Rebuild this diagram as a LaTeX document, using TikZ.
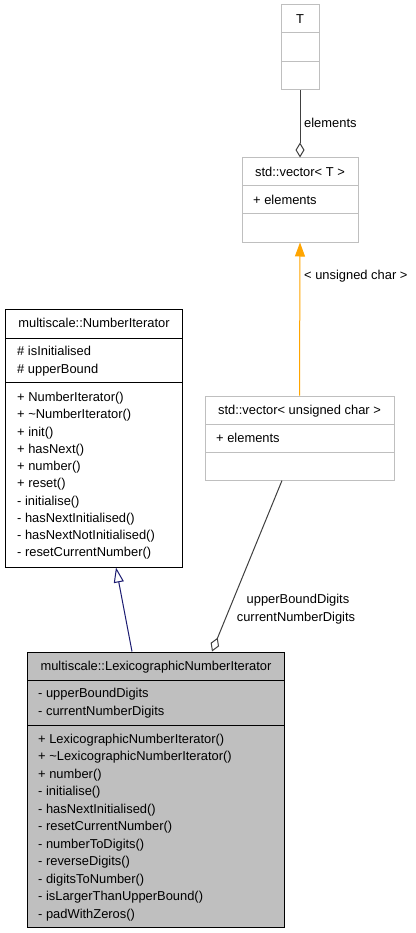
\documentclass[tikz,border=0pt]{standalone}
\usepackage{fontspec}
\setmainfont{Liberation Sans}
\usetikzlibrary{arrows.meta, positioning}
\definecolor{boxgray}{HTML}{BFBFBF}
\definecolor{edgegray}{HTML}{404040}
\definecolor{inhnavy}{HTML}{191970}
\definecolor{tmplorange}{HTML}{FFA500}

\begin{document}
\begin{tikzpicture}[x=1pt, y=-1pt,
    tmplbox/.style={rectangle, draw=boxgray, fill=white, line width=1pt, inner sep=0pt},
    classbox/.style={rectangle, draw=black, fill=white, line width=1pt, inner sep=0pt},
    title/.style={inner sep=0pt, anchor=mid, yshift=-1.5pt, font=\fontsize{12.9}{15}\selectfont},
    member/.style={inner sep=0pt, anchor=mid west, yshift=-1.5pt, font=\fontsize{12.9}{15}\selectfont},
    aggr/.style={-{Diamond[open, length=15pt, width=9pt]}, line width=1pt, edgegray},
    tmplarrow/.style={-{Triangle[length=14pt, width=10pt]}, line width=1pt, tmplorange},
    inherit/.style={-{Triangle[open, length=15pt, width=10pt]}, line width=1pt, inhnavy},
  ]
  \useasboundingbox[fill=white] (0,0) rectangle (415,933);

  \node[tmplbox, minimum width=38pt, minimum height=85pt] (tbox) at (300,47.5) {};
  \node[tmplbox, minimum width=116pt, minimum height=84pt] (vect) at (300,200) {};
  \node[tmplbox, minimum width=189pt, minimum height=84pt] (vecuc) at (299.5,438) {};
  \node[classbox, minimum width=177pt, minimum height=258pt] (numit) at (93.5,438) {};
  \node[classbox, fill=boxgray, minimum width=257pt, minimum height=275pt] (lexit) at (155.5,789.5) {};

  \draw[boxgray, line width=1pt] (281,33) -- (319,33) (281,62) -- (319,62);
  \draw[boxgray, line width=1pt] (242,186) -- (358,186) (242,214) -- (358,214);
  \draw[boxgray, line width=1pt] (205,424) -- (394,424) (205,452) -- (394,452);
  \draw[line width=1pt] (5,338) -- (182,338) (5,382) -- (182,382);
  \draw[line width=1pt] (27,680) -- (284,680) (27,725) -- (284,725);

  \node[title] (ttitle) at (300,19) {T};
  \node[title] (vecttitle) at (300,172) {std::vector< T >};
  \node[member] (vectelem) at (253,200) {+ elements};
  \node[title] (vecuctitle) at (299.5,410) {std::vector< unsigned char >};
  \node[member] (vecucelem) at (216,438) {+ elements};

  \node[title] (numittitle) at (94,323) {multiscale::NumberIterator};
  \node[member] (numitattr1) at (17,351) {\# isInitialised};
  \node[member] (numitattr2) at (17,369) {\# upperBound};
  \foreach \m [count=\i from 0] in {+ NumberIterator(), + \textasciitilde NumberIterator(), + init(),
      + hasNext(), + number(), + reset(), - initialise(), - hasNextInitialised(),
      - hasNextNotInitialised(), - resetCurrentNumber()}
    \node[member] (numitop\i) at (17,397.5+17.25*\i) {\m};

  \node[title] (lexittitle) at (156,666) {multiscale::LexicographicNumberIterator};
  \node[member] (lexitattr1) at (38,693) {- upperBoundDigits};
  \node[member] (lexitattr2) at (38,711) {- currentNumberDigits};
  \foreach \m [count=\i from 0] in {+ LexicographicNumberIterator(), + \textasciitilde LexicographicNumberIterator(),
      + number(), - initialise(), - hasNextInitialised(), - resetCurrentNumber(),
      - numberToDigits(), - reverseDigits(), - digitsToNumber(), - isLargerThanUpperBound(),
      - padWithZeros()}
    \node[member] (lexitop\i) at (38,739+17.5*\i) {\m};

  \draw[aggr] (tbox.south) -- (vect.north);
  \draw[tmplarrow] (vecuc.north) -- (vect.south);
  \draw[inherit] ([xshift=-23.5pt]lexit.north) -- ([xshift=22.5pt]numit.south);
  \draw[aggr] ([xshift=-17.5pt]vecuc.south) -- ([xshift=56.5pt]lexit.north);

  \node[member] (elemlabel) at (304,123) {elements};
  \node[member] (ucharlabel) at (304,275) {< unsigned char >};
  \node[title] (ubdlabel) at (298,599) {upperBoundDigits};
  \node[title] (cndlabel) at (296,617) {currentNumberDigits};
\end{tikzpicture}
\end{document}
